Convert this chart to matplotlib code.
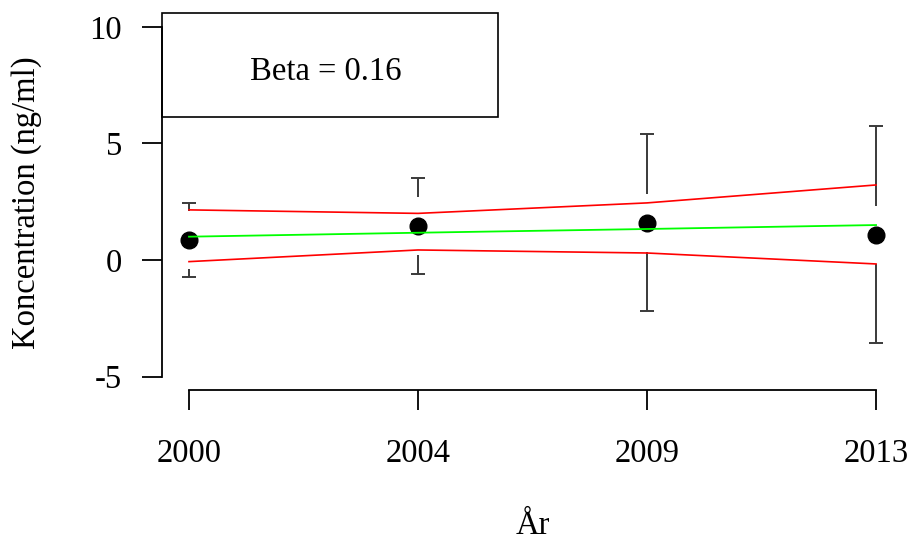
import numpy as np
import matplotlib.pyplot as plt
from matplotlib.patches import Rectangle

years = ["2000", "2004", "2009", "2013"]
mean_conc = [0.86, 1.47, 1.60, 1.08]
sd_conc = [1.57, 2.06, 3.80, 4.66]
fit = [1.00, 1.17, 1.33, 1.50]
ci_upper = [2.15, 2.00, 2.45, 3.22]
ci_lower = [-0.07, 0.43, 0.30, -0.17]
yticks = [-5, 0, 5, 10]
beta_text = "Beta = 0.16"

plt.rcParams["font.family"] = ["Liberation Serif", "DejaVu Serif"]
fs = 23.5

fig = plt.figure(figsize=(9.11, 5.45), dpi=100)
ax = fig.add_axes([0.1773, 0.2835, 0.8145, 0.6927])

x = np.arange(1, len(years) + 1)
mean = np.array(mean_conc)
sd = np.array(sd_conc)
gap = 1.25

# error bars with a gap around the point, like gplots::plotCI
ax.vlines(x, mean + gap, mean + sd, color="#3a3a3a", lw=1.4, zorder=2)
ax.vlines(x, mean - sd, mean - gap, color="#3a3a3a", lw=1.4, zorder=2)
ax.hlines(mean + sd, x - 0.03, x + 0.03, color="#3a3a3a", lw=1.4, zorder=2)
ax.hlines(mean - sd, x - 0.03, x + 0.03, color="#3a3a3a", lw=1.4, zorder=2)

ax.plot(x, mean, "o", color="black", ms=12, zorder=3)
ax.plot(x, fit, color="#00ff00", lw=1.3, zorder=4)
ax.plot(x, ci_upper, color="#ff0000", lw=1.2, zorder=4)
ax.plot(x, ci_lower, color="#ff0000", lw=1.2, zorder=4)

ax.set_xlim(0.88, 4.12)
ax.set_ylim(-5.6, 10.6)
ax.set_xticks(x)
ax.set_xticklabels(years)
ax.set_yticks(yticks)
ax.set_yticklabels([str(v) for v in yticks])

for s in ["top", "right"]:
    ax.spines[s].set_visible(False)
ax.spines["left"].set_bounds(-5, 10)
ax.spines["bottom"].set_bounds(1, 4)
for s in ["left", "bottom"]:
    ax.spines[s].set_linewidth(1.3)
ax.tick_params(axis="both", direction="out", length=14.5, width=1.3,
               labelsize=fs)
ax.tick_params(axis="y", pad=14)
ax.tick_params(axis="x", pad=20)

# legend box
ax.add_patch(Rectangle((0, 1), 0.453, -0.2755, transform=ax.transAxes,
                       fill=False, ec="black", lw=1.2, clip_on=False))
ax.text(0.221, 0.844, beta_text, transform=ax.transAxes,
        ha="center", va="center", fontsize=fs)

fig.text(27 / 911, 1 - 203 / 545, "Koncentration (ng/ml)", rotation=90,
         ha="center", va="center", fontsize=fs)
fig.text(533 / 911, 1 - 526 / 545, "År", ha="center", va="center", fontsize=fs)

fig.savefig("out.png", dpi=100)
